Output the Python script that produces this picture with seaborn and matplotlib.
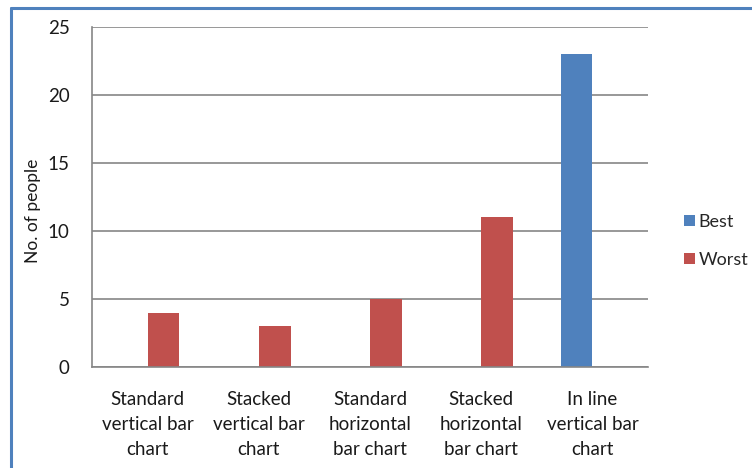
import matplotlib
matplotlib.use("Agg")
import matplotlib.pyplot as plt
import seaborn as sns
import pandas as pd
from matplotlib.lines import Line2D
from matplotlib.patches import Patch

categories = [
    "Standard\nvertical bar\nchart",
    "Stacked\nvertical bar\nchart",
    "Standard\nhorizontal\nbar chart",
    "Stacked\nhorizontal\nbar chart",
    "In line\nvertical bar\nchart",
]
best = [0, 0, 0, 0, 23]
worst = [4, 3, 5, 11, 0]
series_names = ["Best", "Worst"]
colors = ["#4F81BD", "#C0504D"]
y_ticks = [0, 5, 10, 15, 20, 25]

df = pd.DataFrame({
    "category": categories * 2,
    "people": best + worst,
    "series": [series_names[0]] * len(categories) + [series_names[1]] * len(categories),
})

sns.set_theme(style="white")
plt.rcParams["font.family"] = ["Lato", "DejaVu Sans"]

W, H = 752, 468
fig = plt.figure(figsize=(W / 100, H / 100), dpi=100)
ax = fig.add_axes([92 / W, (H - 367) / H, (648 - 92) / W, (367 - 27) / H])

sns.barplot(data=df, x="category", y="people", hue="series",
            palette=colors, width=0.571, saturation=1, ax=ax,
            legend=False, edgecolor="none")

grid_c = "#868686"
text_c = "#1a1a1a"
fs = 13.5
ax.set_ylim(0, 25)
ax.set_xlim(-0.5, len(categories) - 0.5)
ax.set_yticks(y_ticks)
ax.yaxis.grid(True, color=grid_c, linewidth=1.2)
ax.set_axisbelow(True)
for s in ["top", "right"]:
    ax.spines[s].set_visible(False)
for s in ["left", "bottom"]:
    ax.spines[s].set_color(grid_c)
    ax.spines[s].set_linewidth(1.2)

ax.tick_params(axis="y", length=6, width=1.2, color=grid_c, direction="out",
               labelsize=fs, labelcolor=text_c, pad=10)
ax.set_xticks(range(len(categories)))
ax.set_xticklabels(categories, fontsize=fs, color=text_c, linespacing=1.6)
ax.tick_params(axis="x", which="major", length=0, pad=17)
ax.set_xticks([i - 0.5 for i in range(len(categories) + 1)], minor=True)
ax.tick_params(axis="x", which="minor", length=6, width=1.2, color=grid_c,
               direction="out")
ax.set_xlabel("")
ax.set_ylabel("No. of people", fontsize=12.5, color=text_c)
ax.yaxis.set_label_coords(-0.092, 0.46)

handles = [Patch(facecolor=c, edgecolor="none") for c in colors]
fig.legend(handles, series_names, loc="upper left",
           bbox_to_anchor=(675 / W, (H - 205) / H), frameon=False,
           fontsize=13, handlelength=0.6, handleheight=0.6,
           handletextpad=0.2, labelspacing=1.2, borderpad=0)

# outer chart border (left and top edges)
border_c = "#4F81BD"
fig.add_artist(Line2D([10.5 / W, 10.5 / W], [0, (H - 8) / H],
                      transform=fig.transFigure, color=border_c, linewidth=2.2))
fig.add_artist(Line2D([10.5 / W, 1], [(H - 8) / H, (H - 8) / H],
                      transform=fig.transFigure, color=border_c, linewidth=2.2))

fig.savefig("out.png", dpi=100)
